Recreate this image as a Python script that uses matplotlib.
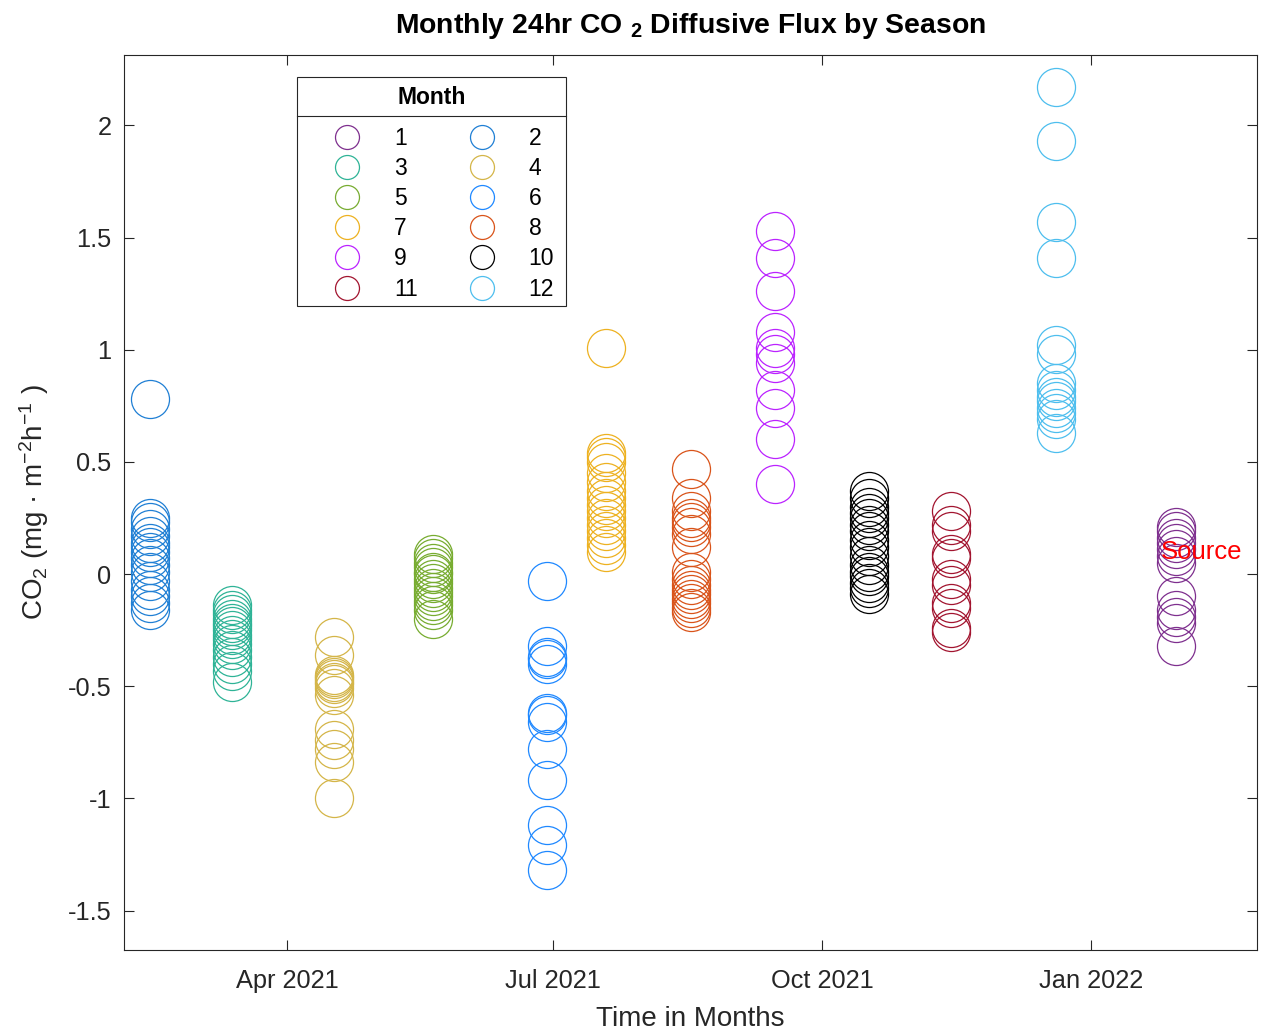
import matplotlib
matplotlib.use("Agg")
import matplotlib.pyplot as plt
import matplotlib.dates as mdates
import numpy as np
from matplotlib.lines import Line2D
from matplotlib.patches import Rectangle

plt.rcParams['font.family'] = ['Liberation Sans', 'DejaVu Sans']
plt.rcParams['mathtext.fontset'] = 'custom'
plt.rcParams['mathtext.rm'] = 'Liberation Sans'
plt.rcParams['mathtext.bf'] = 'Liberation Sans:bold'
plt.rcParams['mathtext.default'] = 'rm'
plt.rcParams['axes.unicode_minus'] = False

# sampling month (calendar number) and the day the 24hr runs are plotted on
month_numbers = [2, 3, 4, 5, 6, 7, 8, 9, 10, 11, 12, 1]
sample_dates = ['2021-02-13', '2021-03-13', '2021-04-17', '2021-05-21',
                '2021-06-29', '2021-07-19', '2021-08-17', '2021-09-15',
                '2021-10-17', '2021-11-14', '2021-12-20', '2022-01-30']

# 24hr diffusive CO2 flux (mg m-2 h-1)
flux_feb = [0.78, 0.25, 0.23, 0.20, 0.17, 0.14, 0.12, 0.10, 0.07, 0.04,
            0.01, -0.03, -0.07, -0.10, -0.13, -0.16]
flux_mar = [-0.14, -0.16, -0.18, -0.20, -0.22, -0.23, -0.25, -0.27, -0.29,
            -0.31, -0.34, -0.37, -0.40, -0.43, -0.48]
flux_apr = [-0.28, -0.36, -0.45, -0.46, -0.47, -0.48, -0.49, -0.51, -0.54,
            -0.69, -0.74, -0.78, -0.84, -1.00]
flux_may = [0.09, 0.07, 0.05, 0.03, 0.01, 0.00, -0.02, -0.04, -0.06, -0.08,
            -0.10, -0.12, -0.14, -0.16, -0.20]
flux_jun = [-0.03, -0.32, -0.37, -0.38, -0.40, -0.62, -0.63, -0.66, -0.78,
            -0.92, -1.12, -1.21, -1.32]
flux_jul = [1.01, 0.54, 0.52, 0.50, 0.45, 0.41, 0.37, 0.34, 0.31, 0.28,
            0.25, 0.22, 0.19, 0.16, 0.13, 0.10]
flux_aug = [0.47, 0.34, 0.28, 0.25, 0.23, 0.21, 0.18, 0.12, 0.01, -0.02,
            -0.05, -0.07, -0.09, -0.11, -0.13, -0.15, -0.17]
flux_sep = [1.53, 1.41, 1.26, 1.08, 1.01, 0.98, 0.94, 0.82, 0.74, 0.60, 0.40]
flux_oct = [0.37, 0.34, 0.30, 0.27, 0.25, 0.22, 0.19, 0.15, 0.12, 0.08,
            0.04, 0.01, -0.01, -0.04, -0.06, -0.09]
flux_nov = [0.28, 0.22, 0.19, 0.09, 0.07, -0.02, -0.05, -0.13, -0.15,
            -0.24, -0.26]
flux_dec = [2.17, 1.93, 1.57, 1.41, 1.02, 0.98, 0.85, 0.82, 0.79, 0.77,
            0.74, 0.72, 0.69, 0.63]
flux_jan = [0.21, 0.19, 0.16, 0.14, 0.11, 0.08, 0.05, -0.10, -0.16, -0.19,
            -0.22, -0.32]

flux_by_month = [flux_feb, flux_mar, flux_apr, flux_may, flux_jun, flux_jul,
                 flux_aug, flux_sep, flux_oct, flux_nov, flux_dec, flux_jan]

month_colors = {
    1: '#7E2F8E', 2: '#1F7FD4', 3: '#2EB396', 4: '#D4B548',
    5: '#77AC30', 6: '#1E88FF', 7: '#EDB120', 8: '#D95319',
    9: '#BB22FF', 10: '#000000', 11: '#A2142F', 12: '#4DBEEE',
}

y_ticks = [-1.5, -1, -0.5, 0, 0.5, 1, 1.5, 2]
x_ticks = ['2021-04-01', '2021-07-01', '2021-10-01', '2022-01-01']
x_tick_labels = ['Apr 2021', 'Jul 2021', 'Oct 2021', 'Jan 2022']

W, H = 1264, 1034
fig = plt.figure(figsize=(W / 100, H / 100), dpi=100)
ax = fig.add_axes([124 / W, 1 - 950 / H, (1257 - 124) / W, (950 - 55) / H])

axis_grey = '#262626'
handles = {}
for month, day, vals in zip(month_numbers, sample_dates, flux_by_month):
    x = np.full(len(vals), mdates.date2num(np.datetime64(day)))
    line, = ax.plot(x, vals, 'o', mfc='none', mec=month_colors[month],
                    ms=27.4, mew=0.9, label=str(month))
    handles[month] = line

ax.text(mdates.date2num(np.datetime64('2022-01-24T18')), 0.1, 'Source',
        color='red', fontsize=18.5, va='center', ha='left')

ax.set_xlim(mdates.date2num(np.datetime64('2021-02-04T04')),
            mdates.date2num(np.datetime64('2022-02-26T19')))
ax.set_ylim(-1.676, 2.314)
ax.set_xticks([mdates.date2num(np.datetime64(d)) for d in x_ticks])
ax.set_xticklabels(x_tick_labels)
ax.set_yticks(y_ticks)
ax.set_yticklabels(['%g' % v for v in y_ticks])
ax.tick_params(direction='in', length=7, width=0.8, top=True, right=True,
               labelsize=18.3, colors=axis_grey, pad=9)
ax.tick_params(axis='x', pad=14)
for s in ax.spines.values():
    s.set_color(axis_grey)
    s.set_linewidth(0.8)

ax.set_xlabel('Time in Months', fontsize=20, color=axis_grey, labelpad=9)
ax.set_ylabel('CO$_2$ (mg · m$^{-2}$h$^{-1}$ )', fontsize=20,
              color=axis_grey, labelpad=12)
ax.set_title('Monthly 24hr CO $_{\\mathbf{2}}$ Diffusive Flux by Season',
             fontsize=20.4, fontweight='bold', pad=16)

# legend: MATLAB-style box with a title row and two columns filled row-wise
order = [1, 3, 5, 7, 9, 11, 2, 4, 6, 8, 10, 12]
leg = fig.legend([handles[m] for m in order], [str(m) for m in order],
                 ncol=2, loc='upper left',
                 bbox_to_anchor=(302 / W, 1 - 127 / H),
                 frameon=False, fontsize=16.5, markerscale=0.63,
                 handlelength=3.93, handletextpad=0.08, columnspacing=0.83,
                 labelspacing=0.31, borderpad=0, borderaxespad=0)

box_left, box_right, box_top, box_bottom = 297, 566, 77, 306
fig.patches.append(Rectangle((box_left / W, 1 - box_bottom / H),
                             (box_right - box_left) / W,
                             (box_bottom - box_top) / H,
                             transform=fig.transFigure, fill=True,
                             facecolor='white', edgecolor=axis_grey,
                             linewidth=0.8, zorder=3))
leg.set_zorder(4)
fig.text((box_left + box_right) / 2 / W, 1 - 97 / H, 'Month',
         fontsize=16.5, fontweight='bold', ha='center', va='center',
         zorder=5)
fig.lines.append(Line2D([box_left / W, box_right / W],
                        [1 - 116 / H, 1 - 116 / H],
                        transform=fig.transFigure, color=axis_grey,
                        linewidth=0.8, zorder=5))

fig.savefig('out.png', dpi=100)
